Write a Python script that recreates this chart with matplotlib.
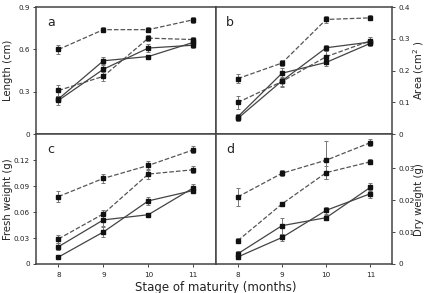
import matplotlib
matplotlib.use('Agg')
import matplotlib.pyplot as plt
from matplotlib.ticker import FuncFormatter

# meses
months = [8, 9, 10, 11]

# painel a - comprimento (cm)
len_d1 = [0.60, 0.74, 0.74, 0.81]
len_d1_err = [0.03, 0.02, 0.02, 0.02]
len_d2 = [0.31, 0.41, 0.68, 0.67]
len_d2_err = [0.04, 0.03, 0.02, 0.02]
len_s1 = [0.25, 0.52, 0.55, 0.65]
len_s1_err = [0.02, 0.03, 0.01, 0.01]
len_s2 = [0.24, 0.46, 0.61, 0.63]
len_s2_err = [0.03, 0.04, 0.03, 0.02]

# painel b - area (cm2)
area_d1 = [0.175, 0.224, 0.361, 0.366]
area_d1_err = [0.015, 0.01, 0.01, 0.008]
area_d2 = [0.10, 0.166, 0.244, 0.294]
area_d2_err = [0.02, 0.015, 0.03, 0.012]
area_s1 = [0.055, 0.192, 0.226, 0.286]
area_s1_err = [0.008, 0.015, 0.005, 0.01]
area_s2 = [0.05, 0.168, 0.272, 0.29]
area_s2_err = [0.008, 0.02, 0.01, 0.01]

# painel c - peso fresco (g)
fw_d1 = [0.078, 0.099, 0.114, 0.132]
fw_d1_err = [0.006, 0.005, 0.005, 0.004]
fw_d2 = [0.029, 0.058, 0.104, 0.109]
fw_d2_err = [0.005, 0.005, 0.006, 0.004]
fw_s1 = [0.020, 0.051, 0.057, 0.088]
fw_s1_err = [0.004, 0.007, 0.001, 0.004]
fw_s2 = [0.008, 0.037, 0.073, 0.085]
fw_s2_err = [0.001, 0.006, 0.005, 0.003]

# painel d - peso seco (g)
dw_d1 = [0.021, 0.0284, 0.0325, 0.038]
dw_d1_err = [0.0027, 0.001, 0.006, 0.001]
dw_d2 = [0.0073, 0.0188, 0.0286, 0.032]
dw_d2_err = [0.0008, 0.0006, 0.002, 0.0008]
dw_s1 = [0.0032, 0.012, 0.0145, 0.024]
dw_s1_err = [0.001, 0.0025, 0.0007, 0.0013]
dw_s2 = [0.0022, 0.0083, 0.0168, 0.022]
dw_s2_err = [0.0005, 0.001, 0.001, 0.0013]

fig = plt.figure(figsize=(4.25, 2.93), dpi=100)
x0, xm, x1 = 0.0847, 0.5075, 0.9235
y0, ym, y1 = 0.099, 0.5416, 0.976
ax_a = fig.add_axes([x0, ym, xm - x0, y1 - ym])
ax_b = fig.add_axes([xm, ym, x1 - xm, y1 - ym])
ax_c = fig.add_axes([x0, y0, xm - x0, ym - y0])
ax_d = fig.add_axes([xm, y0, x1 - xm, ym - y0])

paineis = [
    (ax_a, 'a', [len_d1, len_d2, len_s1, len_s2], [len_d1_err, len_d2_err, len_s1_err, len_s2_err],
     0.9, [0, 0.3, 0.6, 0.9], 'Length (cm)'),
    (ax_b, 'b', [area_d1, area_d2, area_s1, area_s2], [area_d1_err, area_d2_err, area_s1_err, area_s2_err],
     0.4, [0, 0.1, 0.2, 0.3, 0.4], 'Area (cm$^2$ )'),
    (ax_c, 'c', [fw_d1, fw_d2, fw_s1, fw_s2], [fw_d1_err, fw_d2_err, fw_s1_err, fw_s2_err],
     0.15, [0, 0.03, 0.06, 0.09, 0.12], 'Fresh weight (g)'),
    (ax_d, 'd', [dw_d1, dw_d2, dw_s1, dw_s2], [dw_d1_err, dw_d2_err, dw_s1_err, dw_s2_err],
     0.0406, [0, 0.01, 0.02, 0.03], 'Dry weight (g)'),
]

estilos = ['--', '--', '-', '-']

for ax, letra, series, erros, ytop, yticks, ylabel in paineis:
    for s, e, ls in zip(series, erros, estilos):
        cor = '#555555' if ls == '--' else '#444444'
        ax.errorbar(months, s, yerr=e, fmt='s', ls=ls, color=cor, lw=0.9,
                    ms=2.6, mfc='#111111', mec='#111111', ecolor='#777777',
                    elinewidth=0.7, capsize=1.5, capthick=0.7)
    ax.set_xlim(7.5, 11.5)
    ax.set_ylim(0, ytop)
    ax.set_xticks(months)
    ax.set_yticks(yticks)
    ax.yaxis.set_major_formatter(FuncFormatter(lambda v, p: '{:g}'.format(v)))
    for sp in ax.spines.values():
        sp.set_color('#444444')
        sp.set_linewidth(1.1)
    ax.tick_params(direction='out', length=2.5, width=0.7, color='#444444',
                   labelsize=5.2, pad=2, labelcolor='#222222')
    ax.text(0.06, 0.93, letra, transform=ax.transAxes, fontsize=9,
            va='top', ha='left', color='#222222')

for ax in (ax_a, ax_b):
    ax.tick_params(axis='x', labelbottom=False, length=2)
for ax in (ax_c, ax_d):
    ax.tick_params(axis='x', pad=3)
for ax in (ax_b, ax_d):
    ax.yaxis.tick_right()
    ax.tick_params(axis='y', pad=1.5)

# rotulos dos eixos y
for ax, (_, _, _, _, _, _, ylabel) in zip([ax_a, ax_b, ax_c, ax_d], paineis):
    pos = ax.get_position()
    xt = 0.02 if ax in (ax_a, ax_c) else 0.985
    fig.text(xt, pos.y0 + pos.height / 2, ylabel, rotation=90, ha='center', va='center',
             fontsize=7.3, color='#222222')

fig.text(0.5075, 0.02, 'Stage of maturity (months)', ha='center', va='center',
         fontsize=8.5, color='#222222')

plt.savefig('out.png', dpi=100)
